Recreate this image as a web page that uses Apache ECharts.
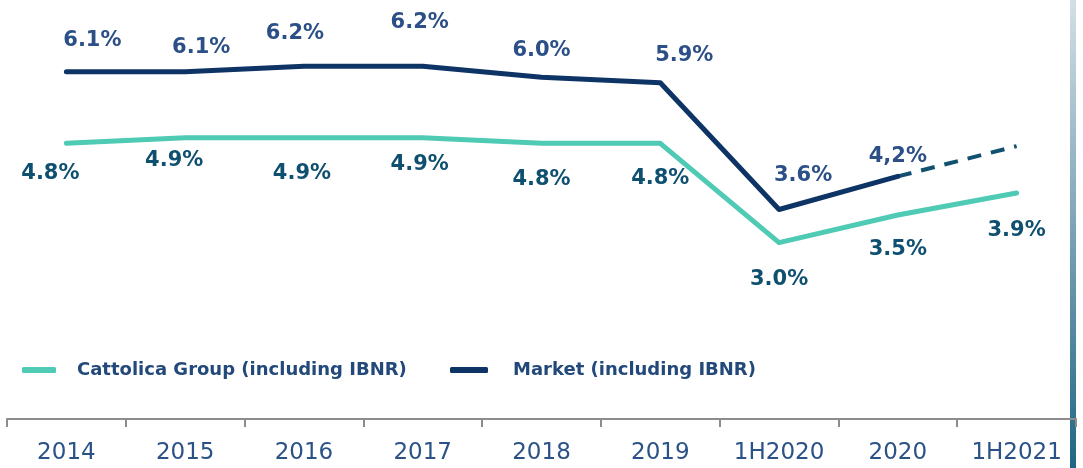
<!DOCTYPE html>
<html>
<head>
<meta charset="utf-8">
<title>Loss ratio</title>
<script src="https://cdn.jsdelivr.net/npm/echarts@6/dist/echarts.min.js"></script>
<style>
  html, body { margin: 0; padding: 0; background: #fff; }
  #main { width: 1083px; height: 468px; }
</style>
</head>
<body>
<div id="main"></div>
<script>
  // categories and values
  var categories = ['2014', '2015', '2016', '2017', '2018', '2019', '1H2020', '2020', '1H2021'];
  var cattolica = [4.8, 4.9, 4.9, 4.9, 4.8, 4.8, 3.0, 3.5, 3.9];
  var market = [6.1, 6.1, 6.2, 6.2, 6.0, 5.9, 3.6, 4.2, null];
  var marketForecast = [null, null, null, null, null, null, null, 4.2, 4.75];
  var cattolicaLabels = ['4.8%', '4.9%', '4.9%', '4.9%', '4.8%', '4.8%', '3.0%', '3.5%', '3.9%'];
  var marketLabels = ['6.1%', '6.1%', '6.2%', '6.2%', '6.0%', '5.9%', '3.6%', '4,2%', ''];

  // label nudges [dx, dy] relative to each point
  var cattolicaOffsets = [[-16, 30], [-11, 23], [-2, 36], [-3, 27], [0, 36], [0, 35], [0, 37], [0, 35], [0, 38]];
  var marketOffsets = [[26, -31], [16, -24], [-9, -33], [-3, -44], [0, -27], [24, -27], [24, -34], [0, -20], [0, 0]];

  var BOLD_FONT = 'DejaVu Sans';
  var AXIS_FONT = 'DejaVu Sans';
  var cName = 'Cattolica Group (including IBNR)';
  var mName = 'Market (including IBNR)';

  function build(values, labels, offsets, color) {
    return values.map(function (v, i) {
      return {
        value: v,
        label: { offset: offsets[i], formatter: labels[i], color: color }
      };
    });
  }

  var chart = echarts.init(document.getElementById('main'));

  function legendText(padLeft) {
    return { color: '#23497a', fontSize: 18, fontWeight: 'bold', fontFamily: BOLD_FONT, padding: [0, 0, 0, padLeft] };
  }

  chart.setOption({
    animation: false,
    grid: { left: 7, right: 7, top: 0, bottom: 49 },
    legend: [{
      data: [cName], left: 17, top: 356, icon: 'roundRect', itemWidth: 34, itemHeight: 6,
      textStyle: legendText(16)
    }, {
      data: [mName], left: 445, top: 356, icon: 'roundRect', itemWidth: 38, itemHeight: 6,
      textStyle: legendText(20)
    }],
    xAxis: {
      type: 'category',
      data: categories,
      boundaryGap: true,
      axisLine: { onZero: false, lineStyle: { color: '#8c8c8c', width: 2 } },
      axisTick: { show: true, length: 8, lineStyle: { color: '#8c8c8c', width: 2 } },
      axisLabel: { color: '#2b5287', fontSize: 23, fontFamily: AXIS_FONT, margin: 23, interval: 0 }
    },
    yAxis: {
      type: 'value', min: -0.2, max: 7.4, show: false,
      splitLine: { show: false }
    },
    graphic: [{
      type: 'rect', left: 1070, top: 0, shape: { width: 6, height: 468 }, silent: true,
      style: {
        fill: new echarts.graphic.LinearGradient(0, 0, 0, 1, [
          { offset: 0, color: '#d3dfe6' },
          { offset: 1, color: '#1f6585' }
        ])
      }
    }],
    series: [{
      name: cName, type: 'line',
      data: build(cattolica, cattolicaLabels, cattolicaOffsets, '#0f5070'),
      symbol: 'circle', symbolSize: 2,
      lineStyle: { color: '#4fcab5', width: 5, cap: 'round', join: 'round' },
      itemStyle: { color: '#4fcab5' },
      label: { show: true, position: 'inside', fontSize: 21, fontWeight: 'bold', fontFamily: BOLD_FONT }
    }, {
      name: mName, type: 'line',
      data: build(market, marketLabels, marketOffsets, '#2b4f86'),
      symbol: 'circle', symbolSize: 2,
      lineStyle: { color: '#0e3466', width: 5, cap: 'round', join: 'round' },
      itemStyle: { color: '#0e3466' },
      label: { show: true, position: 'inside', fontSize: 21, fontWeight: 'bold', fontFamily: BOLD_FONT }
    }, {
      name: 'forecast', type: 'line',
      data: marketForecast,
      symbol: 'none',
      lineStyle: { color: '#11506f', width: 4, type: [14, 10] },
      z: 1
    }]
  });
</script>
</body>
</html>
